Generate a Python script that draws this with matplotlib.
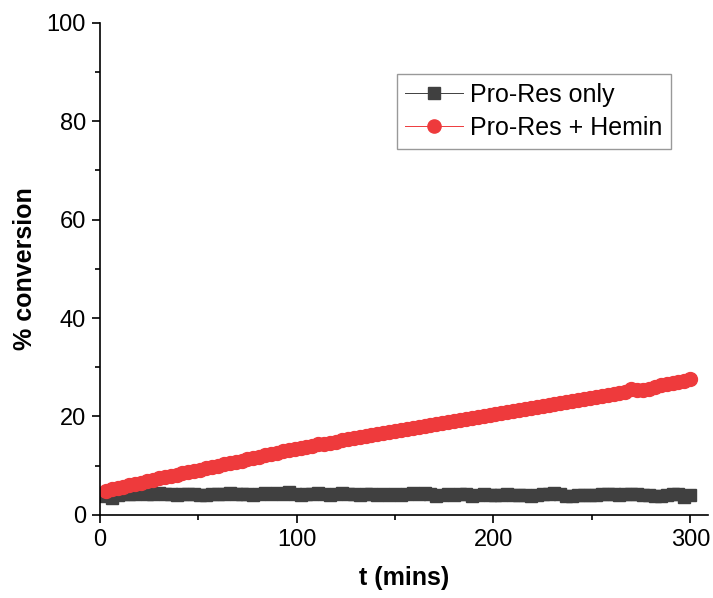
import matplotlib.pyplot as plt
from matplotlib.ticker import MultipleLocator

plt.rcParams['font.family'] = ['Liberation Sans', 'DejaVu Sans']

# time grid (mins), sampled every 3 min
t_only = list(range(0, 301, 3))
t_hemin = list(range(3, 301, 3))

conv_only = [
    4.0, 3.8, 3.4, 4.1, 4.2, 4.3, 4.2, 4.4, 4.3, 4.2,
    4.4, 4.3, 4.2, 4.1, 4.2, 4.3, 4.2, 4.0, 4.1, 4.3,
    4.3, 4.2, 4.4, 4.3, 4.2, 4.3, 4.1, 4.2, 4.4, 4.3,
    4.5, 4.3, 4.6, 4.2, 4.0, 4.3, 4.2, 4.4, 4.3, 4.1,
    4.2, 4.4, 4.2, 4.3, 4.1, 4.2, 4.3, 4.0, 4.2, 4.1,
    4.3, 4.1, 4.2, 4.4, 4.2, 4.5, 4.3, 3.9, 4.1, 4.2,
    4.1, 4.3, 4.2, 3.8, 4.1, 4.2, 4.1, 4.0, 4.1, 4.2,
    4.1, 4.0, 4.1, 3.9, 4.1, 4.2, 4.3, 4.4, 4.2, 3.9,
    3.9, 4.0, 4.1, 4.0, 4.1, 4.2, 4.3, 4.2, 4.1, 4.2,
    4.3, 4.2, 4.1, 4.0, 3.9, 3.8, 4.1, 4.2, 4.2, 3.6,
    4.0,
]

conv_hemin = [
    4.9, 5.2, 5.4, 5.7, 6.0, 6.3, 6.5, 6.8, 7.1, 7.4,
    7.6, 7.9, 8.2, 8.5, 8.7, 9.0, 9.2, 9.5, 9.8, 10.0,
    10.3, 10.5, 10.8, 11.0, 11.3, 11.6, 11.8, 12.1, 12.3, 12.6,
    12.9, 13.1, 13.4, 13.6, 13.8, 14.0, 14.3, 14.5, 14.7, 14.9,
    15.2, 15.4, 15.6, 15.8, 16.0, 16.3, 16.5, 16.7, 16.9, 17.1,
    17.3, 17.5, 17.7, 17.9, 18.1, 18.3, 18.5, 18.7, 18.9, 19.1,
    19.3, 19.5, 19.7, 19.9, 20.1, 20.3, 20.5, 20.7, 20.9, 21.1,
    21.3, 21.5, 21.7, 21.9, 22.1, 22.3, 22.5, 22.7, 22.9, 23.1,
    23.3, 23.5, 23.7, 24.0, 24.1, 24.3, 24.5, 24.7, 25.0, 25.5,
    25.4, 25.3, 25.6, 26.0, 26.4, 26.6, 26.8, 27.0, 27.3, 27.6,
]

fig = plt.figure(figsize=(7.13, 5.98), dpi=100)
ax = fig.add_axes([0.140, 0.139, 0.853, 0.823])

ax.plot(t_only, conv_only, color='#404040', marker='s', markersize=8.5,
        linewidth=0.8, label='Pro-Res only')
ax.plot(t_hemin, conv_hemin, color='#ee3a3c', marker='o', markersize=10,
        linewidth=0.8, label='Pro-Res + Hemin')

ax.set_xlim(0, 309)
ax.set_ylim(0, 100)
ax.xaxis.set_major_locator(MultipleLocator(100))
ax.xaxis.set_minor_locator(MultipleLocator(50))
ax.yaxis.set_major_locator(MultipleLocator(20))
ax.yaxis.set_minor_locator(MultipleLocator(10))

for side in ['top', 'right']:
    ax.spines[side].set_visible(False)
for side in ['left', 'bottom']:
    ax.spines[side].set_linewidth(1.2)
    ax.spines[side].set_clip_on(False)

ax.tick_params(which='major', direction='out', length=6, width=1.2,
               labelsize=17, pad=4)
ax.tick_params(which='minor', direction='out', length=3.5, width=1.2)

ax.set_xlabel('t (mins)', fontsize=18, fontweight='bold', labelpad=11)
ax.set_ylabel('% conversion', fontsize=18, fontweight='bold', labelpad=7)

leg = ax.legend(loc='upper left', bbox_to_anchor=(0.488, 0.896),
                borderaxespad=0, fontsize=18, frameon=True, fancybox=False,
                handlelength=2.3, handletextpad=0.3, borderpad=0.35,
                labelspacing=0.38, markerscale=0.95)
leg.get_frame().set_edgecolor('#808080')
leg.get_frame().set_linewidth(1.0)
for line in leg.get_lines():
    line.set_linewidth(0.7)

fig.savefig('out.png', dpi=100)
